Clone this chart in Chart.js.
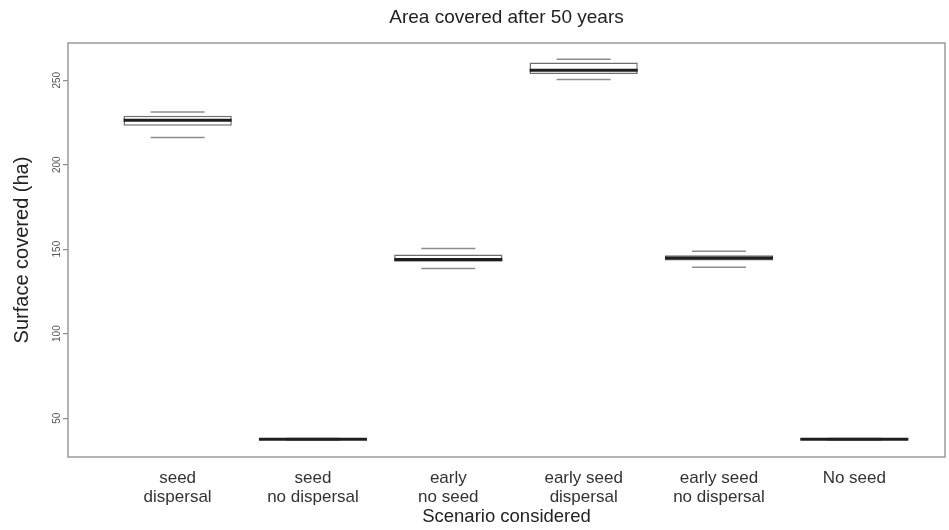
<!DOCTYPE html>
<html>
<head>
<meta charset="utf-8">
<script src="https://cdn.jsdelivr.net/npm/chart.js@4/dist/chart.umd.min.js"></script>
<style>
  html, body { margin: 0; padding: 0; background: #fff; }
  #wrap { width: 949px; height: 530px; }
</style>
</head>
<body>
<div id="wrap"><canvas id="chart" width="949" height="530"></canvas></div>
<script>
// ---- data ----
const categories = [
  ['seed', 'dispersal'],
  ['seed', 'no dispersal'],
  ['early', 'no seed'],
  ['early seed', 'dispersal'],
  ['early seed', 'no dispersal'],
  ['No seed']
];
const lowCap  = [216.1, 37.0, 138.6, 250.4, 139.3, 37.0];
const q1      = [223.0, 37.2, 142.5, 253.6, 143.3, 37.2];
const median  = [226.3, 37.5, 143.9, 255.9, 144.8, 37.5];
const q3      = [228.9, 37.8, 146.9, 260.5, 146.4, 37.8];
const highCap = [231.2, 38.0, 150.4, 262.4, 148.8, 38.0];
const yTicks  = [50, 100, 150, 200, 250];

const FONT = '"Liberation Sans", Arial, sans-serif';
const xPos = categories.map((c, i) => i);

// frame round the plot + rotated y tick labels
const framePlugin = {
  id: 'frame',
  afterDraw(chart) {
    const { ctx, chartArea: a } = chart;
    const yScale = chart.scales.y;
    ctx.save();
    ctx.strokeStyle = '#9a9a9a';
    ctx.lineWidth = 1.5;
    ctx.strokeRect(a.left, a.top, a.right - a.left, a.bottom - a.top);
    ctx.fillStyle = '#555';
    ctx.font = '10px ' + FONT;
    ctx.textAlign = 'center';
    ctx.textBaseline = 'middle';
    yTicks.forEach(v => {
      ctx.save();
      ctx.translate(57, yScale.getPixelForValue(v));
      ctx.rotate(-Math.PI / 2);
      ctx.fillText(String(v), 0, 0);
      ctx.restore();
    });
    ctx.restore();
  }
};

new Chart(document.getElementById('chart'), {
  type: 'bar',
  data: {
    datasets: [
      {
        type: 'scatter',
        label: 'caps',
        data: xPos.flatMap(i => [{ x: i, y: lowCap[i] }, { x: i, y: highCap[i] }]),
        pointStyle: 'line',
        pointRadius: 27,
        pointBorderWidth: 1.5,
        pointBorderColor: '#8c8c8c',
        order: 3
      },
      {
        label: 'box',
        data: xPos.map(i => ({ x: i, y: [q1[i], q3[i]] })),
        backgroundColor: '#ffffff',
        borderColor: '#6e6e6e',
        borderWidth: 1.5,
        borderSkipped: false,
        categoryPercentage: 1,
        barPercentage: 0.8,
        order: 2
      },
      {
        type: 'scatter',
        label: 'median',
        data: xPos.map(i => ({ x: i, y: median[i] })),
        pointStyle: 'line',
        pointRadius: 54,
        pointBorderWidth: 3,
        pointBorderColor: '#1e1e1e',
        order: 1
      }
    ]
  },
  options: {
    responsive: false,
    animation: false,
    layout: { autoPadding: false, padding: { left: 5, right: 4, top: 0, bottom: 0 } },
    plugins: {
      legend: { display: false },
      tooltip: { enabled: false },
      title: {
        display: true,
        fullSize: false,
        text: 'Area covered after 50 years',
        color: '#222',
        font: { family: FONT, size: 19, weight: 'normal' },
        padding: { top: 6.6, bottom: 13.6 }
      }
    },
    scales: {
      x: {
        type: 'linear',
        min: -0.81,
        max: 5.67,
        offset: false,
        grid: { display: false, offset: false },
        border: { display: false },
        afterBuildTicks: (scale) => { scale.ticks = xPos.map(v => ({ value: v })); },
        afterFit: (scale) => { scale.height = 73; },
        ticks: {
          autoSkip: false,
          maxRotation: 0,
          minRotation: 0,
          padding: 4,
          color: '#333',
          font: { family: FONT, size: 17, lineHeight: 1.1 },
          callback: (v) => categories[v]
        },
        title: {
          display: true,
          text: 'Scenario considered',
          color: '#222',
          font: { family: FONT, size: 18.5 },
          padding: { top: 0, bottom: 2 }
        }
      },
      y: {
        min: 27,
        max: 272,
        grid: { drawOnChartArea: false, drawTicks: true, tickLength: 5, color: '#8c8c8c', lineWidth: 1.2 },
        border: { display: false },
        afterBuildTicks: (scale) => { scale.ticks = yTicks.map(v => ({ value: v })); },
        afterFit: (scale) => { scale.width = 63; },
        ticks: { display: false },
        title: {
          display: true,
          text: 'Surface covered (ha)',
          color: '#222',
          font: { family: FONT, size: 20 },
          padding: { top: 5, bottom: 0 }
        }
      }
    }
  },
  plugins: [framePlugin]
});
</script>
</body>
</html>
